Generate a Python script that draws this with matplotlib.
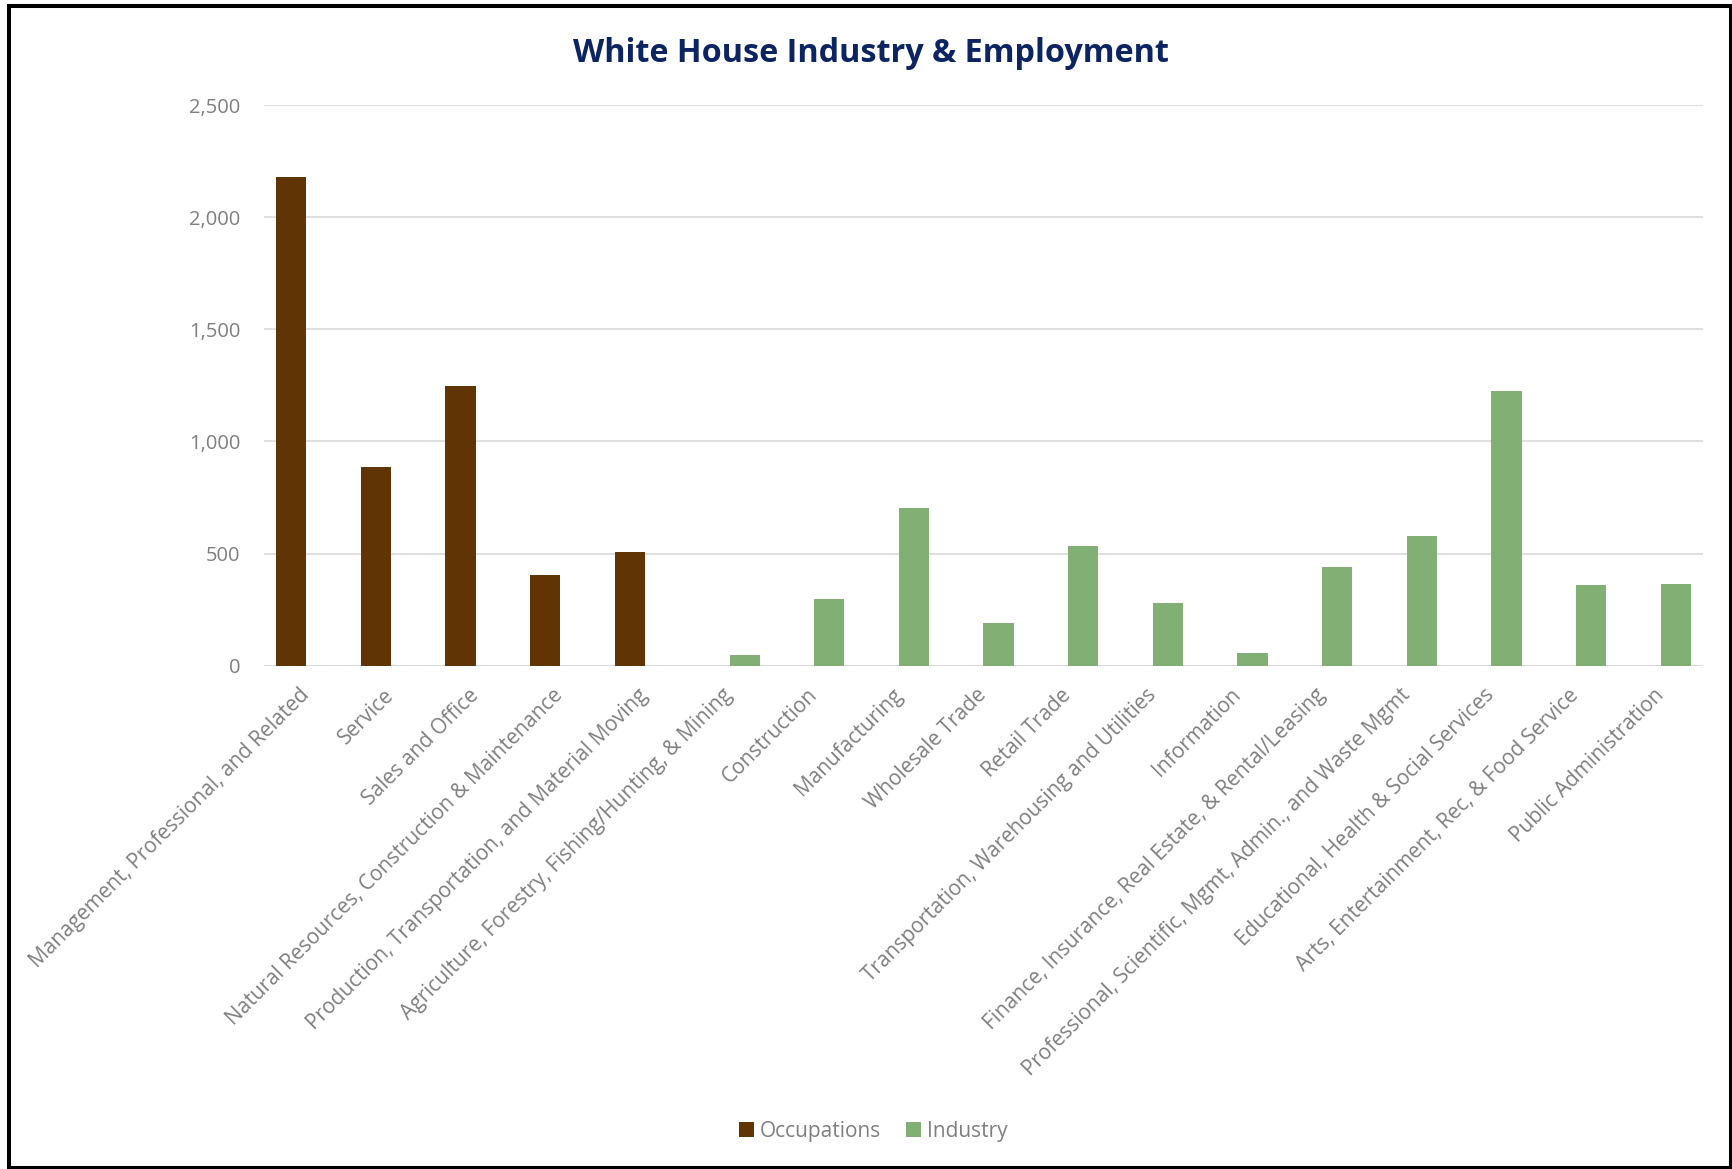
import matplotlib
matplotlib.use("Agg")
import matplotlib.pyplot as plt
from matplotlib.patches import Rectangle, Patch
from matplotlib.ticker import FuncFormatter

# --- data -------------------------------------------------------------
occupation_labels = [
    "Management, Professional, and Related",
    "Service",
    "Sales and Office",
    "Natural Resources, Construction & Maintenance",
    "Production, Transportation, and Material Moving",
]
occupation_values = [2181, 887, 1246, 406, 505]

industry_labels = [
    "Agriculture, Forestry, Fishing/Hunting, & Mining",
    "Construction",
    "Manufacturing",
    "Wholesale Trade",
    "Retail Trade",
    "Transportation, Warehousing and Utilities",
    "Information",
    "Finance, Insurance, Real Estate, & Rental/Leasing",
    "Professional, Scientific, Mgmt, Admin., and Waste Mgmt",
    "Educational, Health & Social Services",
    "Arts, Entertainment, Rec, & Food Service",
    "Public Administration",
]
industry_values = [46, 298, 702, 189, 534, 278, 58, 441, 579, 1224, 362, 364]

series_names = ["Occupations", "Industry"]
y_ticks = [0, 500, 1000, 1500, 2000, 2500]

# --- style ------------------------------------------------------------
BROWN = "#603503"
GREEN = "#82AF73"
TEXT = "#7F7F7F"
GRID = "#D9D9D9"
TITLE = "#0D2462"
FONT = "Open Sans"

W, H, DPI = 1733, 1169, 100
fig = plt.figure(figsize=(W / DPI, H / DPI), dpi=DPI)
fig.patch.set_facecolor("white")

ax = fig.add_axes([264 / W, 1 - 665.7 / H, (1703 - 264) / W, (665.7 - 105) / H])

categories = occupation_labels + industry_labels
n = len(categories)
bw = 0.357
occ_x = [i - bw / 2 for i in range(len(occupation_labels))]
ind_x = [len(occupation_labels) + i + bw / 2 for i in range(len(industry_labels))]

ax.bar(occ_x, occupation_values, width=bw, color=BROWN, zorder=3)
ax.bar(ind_x, industry_values, width=bw, color=GREEN, zorder=3)

ax.set_xlim(-0.5, n - 0.5)
ax.set_ylim(0, 2500)
ax.set_yticks(y_ticks)
ax.yaxis.set_major_formatter(FuncFormatter(lambda v, p: f"{int(v):,}"))
ax.grid(axis="y", color=GRID, linewidth=1.2, zorder=0)
ax.set_axisbelow(True)
for s in ax.spines.values():
    s.set_visible(False)
ax.axhline(0, color=GRID, linewidth=1.2, zorder=2)

ax.tick_params(axis="y", length=0, pad=17, labelsize=14.5, labelcolor=TEXT)
ax.tick_params(axis="x", length=0, pad=19)
ax.set_xticks(range(n))
ax.set_xticklabels(categories, rotation=45, ha="right", va="center",
                   rotation_mode="anchor", fontsize=15, color=TEXT,
                   family=FONT)
for lbl in ax.get_yticklabels():
    lbl.set_family(FONT)

fig.text(0.5025, 1 - 53 / H, "White House Industry & Employment",
         ha="center", va="center", fontsize=23.3, fontweight="bold",
         color=TITLE, family=FONT)

handles = [Patch(facecolor=BROWN, label=series_names[0]),
           Patch(facecolor=GREEN, label=series_names[1])]
leg = fig.legend(handles=handles, loc="center", bbox_to_anchor=(0.504, 1 - 1131 / H),
                 ncol=2, frameon=False, handlelength=0.72, handleheight=0.72,
                 handletextpad=0.3, columnspacing=1.2,
                 prop={"family": FONT, "size": 15})
for t in leg.get_texts():
    t.set_color(TEXT)

# outer frame
fig.patches.append(Rectangle((9 / W, 1 - 1168 / H), (1731 - 9) / W, (1168 - 6) / H,
                             transform=fig.transFigure, fill=False,
                             edgecolor="black", linewidth=2.9, zorder=10))

fig.savefig("out.png", dpi=DPI, facecolor="white")
